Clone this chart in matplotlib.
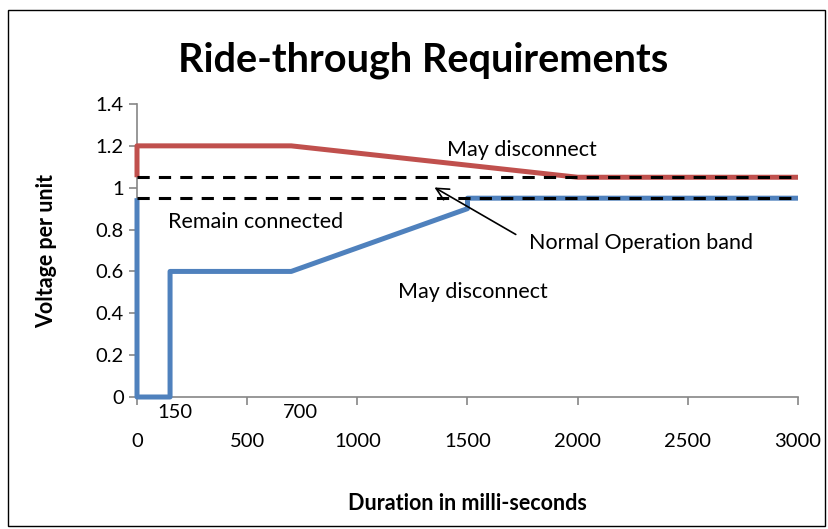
import matplotlib.pyplot as plt
from matplotlib.patches import Rectangle

RED, BLUE = "#c0504d", "#4f81bd"
AXC = "#868686"

# upper (over-voltage) and lower (under-voltage) ride-through limits
upper_t = [0, 0, 700, 2000, 3000]
upper_v = [1.05, 1.2, 1.2, 1.05, 1.05]
lower_t = [0, 0, 150, 150, 700, 1500, 1500, 3000]
lower_v = [0.95, 0, 0, 0.6, 0.6, 0.9, 0.95, 0.95]
band_t = [0, 3000]
band_hi = [1.05, 1.05]
band_lo = [0.95, 0.95]

plt.rcParams["font.family"] = ["Lato", "DejaVu Sans"]

fig = plt.figure(figsize=(8.29, 5.29), dpi=100)
fig.patch.set_facecolor("white")
fig.patches.append(Rectangle((8 / 829, 3 / 529), 817 / 829, 516 / 529,
                             transform=fig.transFigure, fill=False,
                             edgecolor="black", lw=1.0))

ax = fig.add_axes([137 / 829, 1 - 397 / 529, 661 / 829, 293 / 529])

ax.plot(upper_t, upper_v, color=RED, lw=3.6, solid_capstyle="butt",
        zorder=3, clip_on=False)
ax.plot(lower_t, lower_v, color=BLUE, lw=3.6, solid_capstyle="butt",
        zorder=3, clip_on=False)
ax.plot(band_t, band_hi, color="black", lw=2.2, ls=(0, (4, 3)), zorder=4)
ax.plot(band_t, band_lo, color="black", lw=2.2, ls=(0, (4, 3)), zorder=4)

ax.set_xlim(0, 3000)
ax.set_ylim(0, 1.4)
ax.set_xticks(range(0, 3001, 500))
ax.set_yticks([0, 0.2, 0.4, 0.6, 0.8, 1.0, 1.2, 1.4])
ax.set_yticklabels(["0", "0.2", "0.4", "0.6", "0.8", "1", "1.2", "1.4"])
for s in ["top", "right"]:
    ax.spines[s].set_visible(False)
for s in ["left", "bottom"]:
    ax.spines[s].set_color(AXC)
    ax.spines[s].set_linewidth(1.2)
ax.tick_params(axis="both", colors=AXC, labelcolor="black", labelsize=14.5,
               length=6, width=1.2)
ax.tick_params(axis="x", pad=20)

kw = dict(fontsize=15.5, color="black")
ax.text(1748, 1.18, "May disconnect", ha="center", va="center", **kw)
ax.text(536, 0.836, "Remain connected", ha="center", va="center", **kw)
ax.text(2288, 0.735, "Normal Operation band", ha="center", va="center", **kw)
ax.text(1525, 0.50, "May disconnect", ha="center", va="center", **kw)
ax.annotate("", xy=(1339, 1.008), xytext=(1730, 0.77),
            arrowprops=dict(arrowstyle="->", color="black", lw=1.2,
                            mutation_scale=22))
ax.text(172, -0.075, "150", ha="center", va="center", fontsize=14.5,
        clip_on=False)
ax.text(740, -0.075, "700", ha="center", va="center", fontsize=14.5,
        clip_on=False)

ax.set_ylabel("Voltage per unit", fontsize=15.5, fontweight="bold")
ax.yaxis.set_label_coords(-0.121, 0.5)
ax.set_xlabel("Duration in milli-seconds", fontsize=15.5, fontweight="bold")
ax.xaxis.set_label_coords(0.5, -0.328)
fig.text(0.51, 1 - 60 / 529, "Ride-through Requirements", ha="center",
         va="center", fontsize=28.5, fontweight="bold")

fig.savefig("out.png", dpi=100, facecolor="white")
